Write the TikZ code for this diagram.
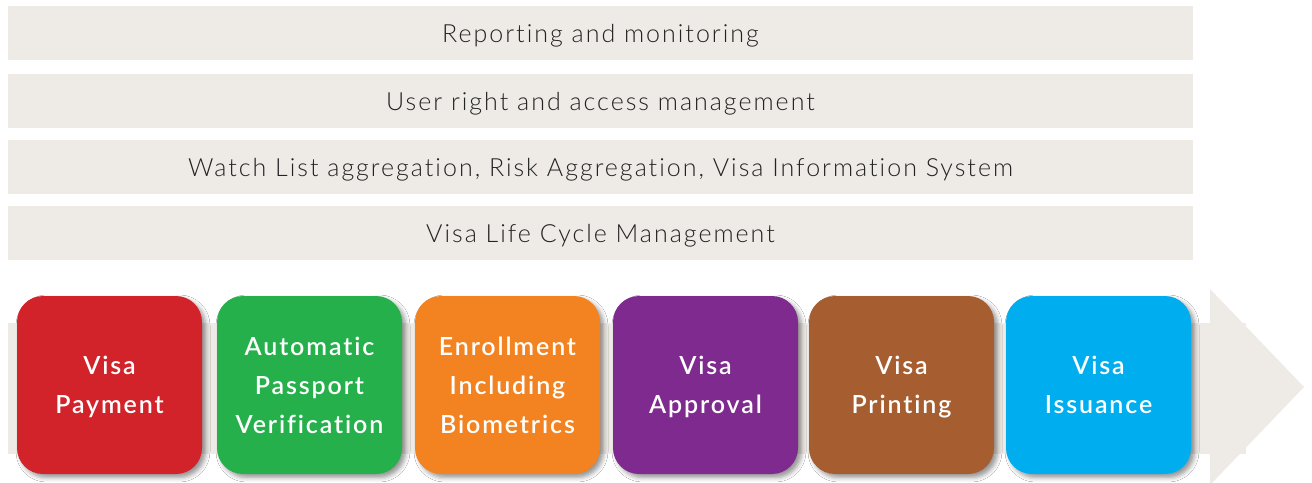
\documentclass[tikz,border=0pt]{standalone}
\usepackage{fontspec}
\setmainfont{Lato}
\newfontfamily\barfont[LetterSpace=8,Ligatures=NoCommon]{Lato Light}
\newfontfamily\boxfont[LetterSpace=7.5,Ligatures=NoCommon]{Lato Semibold}
\usetikzlibrary{shadows.blur}
\definecolor{barbg}{HTML}{EEEAE6}
\definecolor{bartext}{HTML}{232323}
\definecolor{cred}{HTML}{D2232A}
\definecolor{cgreen}{HTML}{25B04B}
\definecolor{corange}{HTML}{F38220}
\definecolor{cpurple}{HTML}{7F2A8F}
\definecolor{cbrown}{HTML}{A65E30}
\definecolor{cblue}{HTML}{00AEEF}
\begin{document}
\begin{tikzpicture}[x=1pt,y=-1pt,
  bar/.style={fill=barbg, draw=none, minimum width=1185pt, minimum height=54pt,
    inner sep=0pt, text=bartext, text height=18pt, text depth=-2pt,
    font=\barfont\fontsize{25}{30}\selectfont},
  stepbox/.style={fill=#1, draw=none, rounded corners=26pt, minimum width=185pt,
    minimum height=178pt, inner sep=0pt, text=white, align=center, text depth=0pt,
    font=\boxfont\fontsize{25}{39}\selectfont,
    blur shadow={shadow xshift=3.5pt, shadow yshift=-3.5pt, shadow blur radius=4.5pt, shadow opacity=42}}]
\useasboundingbox (0,0) rectangle (1312,482);
\fill[white] (0,0) rectangle (1312,482);
% bars
\node[bar] (b1) at (600.5,33) {Reporting and monitoring};
\node[bar] (b2) at (600.5,101) {User right and access management};
\node[bar] (b3) at (600.5,167) {Watch List aggregation, Risk Aggregation, Visa Information System};
\node[bar] (b4) at (600.5,233) {Visa Life Cycle Management};
% big arrow
\fill[barbg] (8,323) rectangle (1246,454);
\fill[barbg] (1210,289) -- (1304,387) -- (1210,485) -- cycle;
% steps
\node[stepbox=cred]    (s1) at (109.5,385) {Visa\\Payment};
\node[stepbox=cgreen]  (s2) at (309.5,385) {Automatic\\Passport\\Verification};
\node[stepbox=corange] (s3) at (507.5,385) {Enrollment\\Including\\Biometrics};
\node[stepbox=cpurple] (s4) at (705.5,385) {Visa\\Approval};
\node[stepbox=cbrown]  (s5) at (901.5,385) {Visa\\Printing};
\node[stepbox=cblue]   (s6) at (1098.5,385) {Visa\\Issuance};
\end{tikzpicture}
\end{document}
